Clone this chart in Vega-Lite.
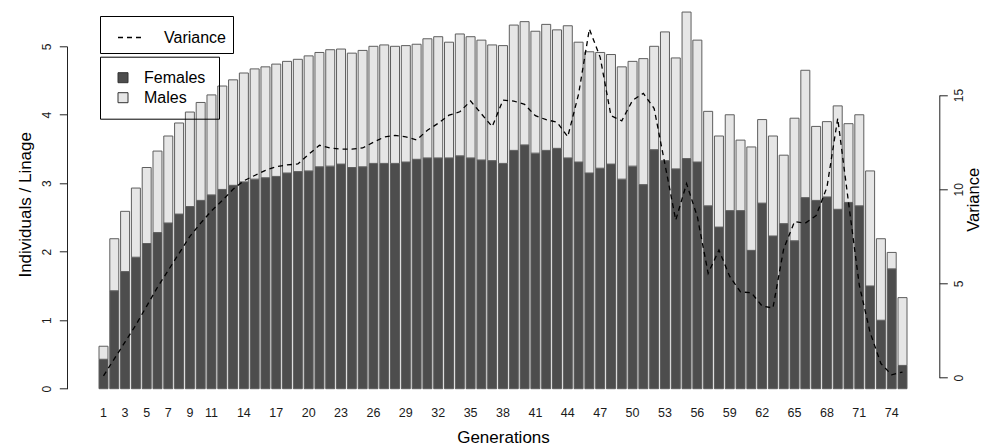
{
  "$schema": "https://vega.github.io/schema/vega-lite/v6.json",
  "width": 808,
  "height": 342.4,
  "autosize": {"type": "none"},
  "padding": {"left": 99, "top": 46.3, "right": 77, "bottom": 58.3},
  "background": "white",
  "config": {
    "font": "Liberation Sans",
    "view": {"stroke": null},
    "axis": {"grid": false, "labelFont": "Liberation Sans", "titleFont": "Liberation Sans", "titleFontWeight": "normal", "labelColor": "#1a1a1a", "titleColor": "black", "domainColor": "#222", "tickColor": "#222", "labelFlush": false, "labelOverlap": false},
    "legend": {"labelFont": "Liberation Sans", "labelColor": "black"}
  },
  "datasets": {
    "lineage": [
      {"generation": 1, "sex": "Females", "value": 0.43}, {"generation": 1, "sex": "Males", "value": 0.19},
      {"generation": 2, "sex": "Females", "value": 1.43}, {"generation": 2, "sex": "Males", "value": 0.76},
      {"generation": 3, "sex": "Females", "value": 1.71}, {"generation": 3, "sex": "Males", "value": 0.88},
      {"generation": 4, "sex": "Females", "value": 1.92}, {"generation": 4, "sex": "Males", "value": 1.01},
      {"generation": 5, "sex": "Females", "value": 2.12}, {"generation": 5, "sex": "Males", "value": 1.11},
      {"generation": 6, "sex": "Females", "value": 2.28}, {"generation": 6, "sex": "Males", "value": 1.19},
      {"generation": 7, "sex": "Females", "value": 2.42}, {"generation": 7, "sex": "Males", "value": 1.27},
      {"generation": 8, "sex": "Females", "value": 2.55}, {"generation": 8, "sex": "Males", "value": 1.33},
      {"generation": 9, "sex": "Females", "value": 2.66}, {"generation": 9, "sex": "Males", "value": 1.38},
      {"generation": 10, "sex": "Females", "value": 2.75}, {"generation": 10, "sex": "Males", "value": 1.43},
      {"generation": 11, "sex": "Females", "value": 2.83}, {"generation": 11, "sex": "Males", "value": 1.46},
      {"generation": 12, "sex": "Females", "value": 2.91}, {"generation": 12, "sex": "Males", "value": 1.51},
      {"generation": 13, "sex": "Females", "value": 2.97}, {"generation": 13, "sex": "Males", "value": 1.54},
      {"generation": 14, "sex": "Females", "value": 3.02}, {"generation": 14, "sex": "Males", "value": 1.59},
      {"generation": 15, "sex": "Females", "value": 3.06}, {"generation": 15, "sex": "Males", "value": 1.61},
      {"generation": 16, "sex": "Females", "value": 3.08}, {"generation": 16, "sex": "Males", "value": 1.62},
      {"generation": 17, "sex": "Females", "value": 3.10}, {"generation": 17, "sex": "Males", "value": 1.64},
      {"generation": 18, "sex": "Females", "value": 3.15}, {"generation": 18, "sex": "Males", "value": 1.63},
      {"generation": 19, "sex": "Females", "value": 3.17}, {"generation": 19, "sex": "Males", "value": 1.64},
      {"generation": 20, "sex": "Females", "value": 3.18}, {"generation": 20, "sex": "Males", "value": 1.68},
      {"generation": 21, "sex": "Females", "value": 3.24}, {"generation": 21, "sex": "Males", "value": 1.67},
      {"generation": 22, "sex": "Females", "value": 3.25}, {"generation": 22, "sex": "Males", "value": 1.70},
      {"generation": 23, "sex": "Females", "value": 3.28}, {"generation": 23, "sex": "Males", "value": 1.68},
      {"generation": 24, "sex": "Females", "value": 3.23}, {"generation": 24, "sex": "Males", "value": 1.67},
      {"generation": 25, "sex": "Females", "value": 3.24}, {"generation": 25, "sex": "Males", "value": 1.70},
      {"generation": 26, "sex": "Females", "value": 3.29}, {"generation": 26, "sex": "Males", "value": 1.71},
      {"generation": 27, "sex": "Females", "value": 3.29}, {"generation": 27, "sex": "Males", "value": 1.73},
      {"generation": 28, "sex": "Females", "value": 3.29}, {"generation": 28, "sex": "Males", "value": 1.71},
      {"generation": 29, "sex": "Females", "value": 3.31}, {"generation": 29, "sex": "Males", "value": 1.70},
      {"generation": 30, "sex": "Females", "value": 3.35}, {"generation": 30, "sex": "Males", "value": 1.68},
      {"generation": 31, "sex": "Females", "value": 3.37}, {"generation": 31, "sex": "Males", "value": 1.74},
      {"generation": 32, "sex": "Females", "value": 3.37}, {"generation": 32, "sex": "Males", "value": 1.77},
      {"generation": 33, "sex": "Females", "value": 3.37}, {"generation": 33, "sex": "Males", "value": 1.69},
      {"generation": 34, "sex": "Females", "value": 3.40}, {"generation": 34, "sex": "Males", "value": 1.78},
      {"generation": 35, "sex": "Females", "value": 3.37}, {"generation": 35, "sex": "Males", "value": 1.77},
      {"generation": 36, "sex": "Females", "value": 3.34}, {"generation": 36, "sex": "Males", "value": 1.75},
      {"generation": 37, "sex": "Females", "value": 3.33}, {"generation": 37, "sex": "Males", "value": 1.69},
      {"generation": 38, "sex": "Females", "value": 3.29}, {"generation": 38, "sex": "Males", "value": 1.72},
      {"generation": 39, "sex": "Females", "value": 3.48}, {"generation": 39, "sex": "Males", "value": 1.83},
      {"generation": 40, "sex": "Females", "value": 3.56}, {"generation": 40, "sex": "Males", "value": 1.80},
      {"generation": 41, "sex": "Females", "value": 3.44}, {"generation": 41, "sex": "Males", "value": 1.78},
      {"generation": 42, "sex": "Females", "value": 3.48}, {"generation": 42, "sex": "Males", "value": 1.84},
      {"generation": 43, "sex": "Females", "value": 3.51}, {"generation": 43, "sex": "Males", "value": 1.73},
      {"generation": 44, "sex": "Females", "value": 3.37}, {"generation": 44, "sex": "Males", "value": 1.93},
      {"generation": 45, "sex": "Females", "value": 3.31}, {"generation": 45, "sex": "Males", "value": 1.75},
      {"generation": 46, "sex": "Females", "value": 3.15}, {"generation": 46, "sex": "Males", "value": 1.77},
      {"generation": 47, "sex": "Females", "value": 3.22}, {"generation": 47, "sex": "Males", "value": 1.69},
      {"generation": 48, "sex": "Females", "value": 3.28}, {"generation": 48, "sex": "Males", "value": 1.60},
      {"generation": 49, "sex": "Females", "value": 3.06}, {"generation": 49, "sex": "Males", "value": 1.64},
      {"generation": 50, "sex": "Females", "value": 3.25}, {"generation": 50, "sex": "Males", "value": 1.53},
      {"generation": 51, "sex": "Females", "value": 2.98}, {"generation": 51, "sex": "Males", "value": 1.84},
      {"generation": 52, "sex": "Females", "value": 3.49}, {"generation": 52, "sex": "Males", "value": 1.51},
      {"generation": 53, "sex": "Females", "value": 3.33}, {"generation": 53, "sex": "Males", "value": 1.88},
      {"generation": 54, "sex": "Females", "value": 3.21}, {"generation": 54, "sex": "Males", "value": 1.62},
      {"generation": 55, "sex": "Females", "value": 3.36}, {"generation": 55, "sex": "Males", "value": 2.14},
      {"generation": 56, "sex": "Females", "value": 3.31}, {"generation": 56, "sex": "Males", "value": 1.78},
      {"generation": 57, "sex": "Females", "value": 2.67}, {"generation": 57, "sex": "Males", "value": 1.38},
      {"generation": 58, "sex": "Females", "value": 2.36}, {"generation": 58, "sex": "Males", "value": 1.33},
      {"generation": 59, "sex": "Females", "value": 2.60}, {"generation": 59, "sex": "Males", "value": 1.40},
      {"generation": 60, "sex": "Females", "value": 2.60}, {"generation": 60, "sex": "Males", "value": 1.03},
      {"generation": 61, "sex": "Females", "value": 2.02}, {"generation": 61, "sex": "Males", "value": 1.51},
      {"generation": 62, "sex": "Females", "value": 2.71}, {"generation": 62, "sex": "Males", "value": 1.22},
      {"generation": 63, "sex": "Females", "value": 2.23}, {"generation": 63, "sex": "Males", "value": 1.46},
      {"generation": 64, "sex": "Females", "value": 2.41}, {"generation": 64, "sex": "Males", "value": 1.00},
      {"generation": 65, "sex": "Females", "value": 2.16}, {"generation": 65, "sex": "Males", "value": 1.79},
      {"generation": 66, "sex": "Females", "value": 2.79}, {"generation": 66, "sex": "Males", "value": 1.86},
      {"generation": 67, "sex": "Females", "value": 2.75}, {"generation": 67, "sex": "Males", "value": 1.08},
      {"generation": 68, "sex": "Females", "value": 2.80}, {"generation": 68, "sex": "Males", "value": 1.10},
      {"generation": 69, "sex": "Females", "value": 2.62}, {"generation": 69, "sex": "Males", "value": 1.51},
      {"generation": 70, "sex": "Females", "value": 2.72}, {"generation": 70, "sex": "Males", "value": 1.15},
      {"generation": 71, "sex": "Females", "value": 2.67}, {"generation": 71, "sex": "Males", "value": 1.33},
      {"generation": 72, "sex": "Females", "value": 1.50}, {"generation": 72, "sex": "Males", "value": 1.68},
      {"generation": 73, "sex": "Females", "value": 1.00}, {"generation": 73, "sex": "Males", "value": 1.19},
      {"generation": 74, "sex": "Females", "value": 1.75}, {"generation": 74, "sex": "Males", "value": 0.24},
      {"generation": 75, "sex": "Females", "value": 0.34}, {"generation": 75, "sex": "Males", "value": 0.99}
    ],
    "variance": [
      {"generation": 1, "variance": 0.1}, {"generation": 2, "variance": 1.0}, {"generation": 3, "variance": 1.9},
      {"generation": 4, "variance": 2.8}, {"generation": 5, "variance": 3.8}, {"generation": 6, "variance": 4.8},
      {"generation": 7, "variance": 5.7}, {"generation": 8, "variance": 6.6}, {"generation": 9, "variance": 7.5},
      {"generation": 10, "variance": 8.2}, {"generation": 11, "variance": 8.85}, {"generation": 12, "variance": 9.4},
      {"generation": 13, "variance": 10.0}, {"generation": 14, "variance": 10.45}, {"generation": 15, "variance": 10.73},
      {"generation": 16, "variance": 11.0}, {"generation": 17, "variance": 11.2}, {"generation": 18, "variance": 11.29},
      {"generation": 19, "variance": 11.34}, {"generation": 20, "variance": 11.85}, {"generation": 21, "variance": 12.33},
      {"generation": 22, "variance": 12.19}, {"generation": 23, "variance": 12.13}, {"generation": 24, "variance": 12.13},
      {"generation": 25, "variance": 12.19}, {"generation": 26, "variance": 12.49}, {"generation": 27, "variance": 12.77},
      {"generation": 28, "variance": 12.86}, {"generation": 29, "variance": 12.78}, {"generation": 30, "variance": 12.62},
      {"generation": 31, "variance": 13.13}, {"generation": 32, "variance": 13.5}, {"generation": 33, "variance": 13.93},
      {"generation": 34, "variance": 14.11}, {"generation": 35, "variance": 14.68}, {"generation": 36, "variance": 14.0},
      {"generation": 37, "variance": 13.32}, {"generation": 38, "variance": 14.73}, {"generation": 39, "variance": 14.68},
      {"generation": 40, "variance": 14.5}, {"generation": 41, "variance": 13.9}, {"generation": 42, "variance": 13.69},
      {"generation": 43, "variance": 13.56}, {"generation": 44, "variance": 12.79}, {"generation": 45, "variance": 15.05},
      {"generation": 46, "variance": 18.5}, {"generation": 47, "variance": 17.0}, {"generation": 48, "variance": 13.9},
      {"generation": 49, "variance": 13.63}, {"generation": 50, "variance": 14.72}, {"generation": 51, "variance": 15.09},
      {"generation": 52, "variance": 14.28}, {"generation": 53, "variance": 11.32}, {"generation": 54, "variance": 8.36},
      {"generation": 55, "variance": 10.3}, {"generation": 56, "variance": 8.54}, {"generation": 57, "variance": 5.54},
      {"generation": 58, "variance": 6.77}, {"generation": 59, "variance": 5.37}, {"generation": 60, "variance": 4.55},
      {"generation": 61, "variance": 4.51}, {"generation": 62, "variance": 3.8}, {"generation": 63, "variance": 3.7},
      {"generation": 64, "variance": 6.85}, {"generation": 65, "variance": 8.28}, {"generation": 66, "variance": 8.2},
      {"generation": 67, "variance": 8.6}, {"generation": 68, "variance": 10.1}, {"generation": 69, "variance": 13.76},
      {"generation": 70, "variance": 9.3}, {"generation": 71, "variance": 4.9}, {"generation": 72, "variance": 2.4},
      {"generation": 73, "variance": 0.75}, {"generation": 74, "variance": 0.15}, {"generation": 75, "variance": 0.3}
    ]
  },
  "layer": [
    {
      "data": {"name": "lineage"},
      "mark": {"type": "bar", "stroke": "#5e5e5e", "strokeWidth": 1},
      "encoding": {
        "x": {
          "field": "generation", "type": "ordinal", "sort": "ascending",
          "scale": {"type": "band", "paddingInner": 0.1667, "paddingOuter": 0},
          "axis": {
            "values": [1, 3, 5, 7, 9, 11, 14, 17, 20, 23, 26, 29, 32, 35, 38, 41, 44, 47, 50, 53, 56, 59, 62, 65, 68, 71, 74],
            "domain": false, "ticks": false, "labelAngle": 0, "labelFontSize": 12.5, "labelPadding": 18,
            "title": "Generations", "titleFontSize": 17, "titleBaseline": "alphabetic", "titleY": 54
          }
        },
        "y": {
          "field": "value", "type": "quantitative", "stack": "zero",
          "scale": {"domain": [0, 5], "nice": false},
          "axis": {
            "orient": "left", "offset": 32, "values": [0, 1, 2, 3, 4, 5],
            "tickSize": 7.7, "labelAngle": 270, "labelAlign": "center", "labelBaseline": "middle",
            "labelPadding": 12.5, "labelFontSize": 12,
            "title": "Individuals / Linage", "titleFontSize": 17, "titleAngle": 270,
            "titleAlign": "center", "titleBaseline": "middle", "titleX": -42, "titleY": 158
          }
        },
        "fill": {
          "field": "sex", "type": "nominal",
          "scale": {"domain": ["Females", "Males"], "range": ["#4d4d4d", "#e6e6e6"]},
          "legend": {
            "orient": "none", "legendX": 1, "legendY": 10.4, "title": null,
            "symbolType": "square", "symbolSize": 100, "symbolStrokeColor": "#333", "symbolStrokeWidth": 1,
            "labelFontSize": 16, "padding": 13, "rowPadding": 4, "symbolOffset": 2, "labelOffset": 13,
            "strokeColor": "black"
          }
        },
        "order": {"field": "sex", "sort": "ascending"}
      }
    },
    {
      "data": {"name": "variance"},
      "mark": {"type": "line", "color": "black", "strokeWidth": 1.3},
      "encoding": {
        "x": {"field": "generation", "type": "ordinal", "sort": "ascending"},
        "y": {
          "field": "variance", "type": "quantitative",
          "scale": {"domain": [0, 15], "range": [331.4, 48.7], "nice": false, "zero": false},
          "axis": {
            "orient": "right", "offset": 32.3, "values": [0, 5, 10, 15],
            "tickSize": 8, "labelAngle": 270, "labelAlign": "center", "labelBaseline": "middle",
            "labelPadding": 11, "labelFontSize": 12,
            "title": "Variance", "titleFontSize": 16.5, "titleAngle": 270,
            "titleAlign": "center", "titleBaseline": "middle", "titleX": 34, "titleY": 153
          }
        },
        "strokeDash": {
          "datum": "Variance",
          "scale": {"range": [[5, 4]]},
          "legend": {
            "orient": "none", "legendX": 1, "legendY": -30.3, "title": null,
            "symbolType": "stroke", "symbolSize": 729, "symbolStrokeColor": "black", "symbolStrokeWidth": 1.3,
            "labelFontSize": 16, "padding": 7, "symbolOffset": 10, "labelOffset": 18,
            "strokeColor": "black"
          }
        }
      }
    }
  ],
  "resolve": {"scale": {"y": "independent"}}
}
